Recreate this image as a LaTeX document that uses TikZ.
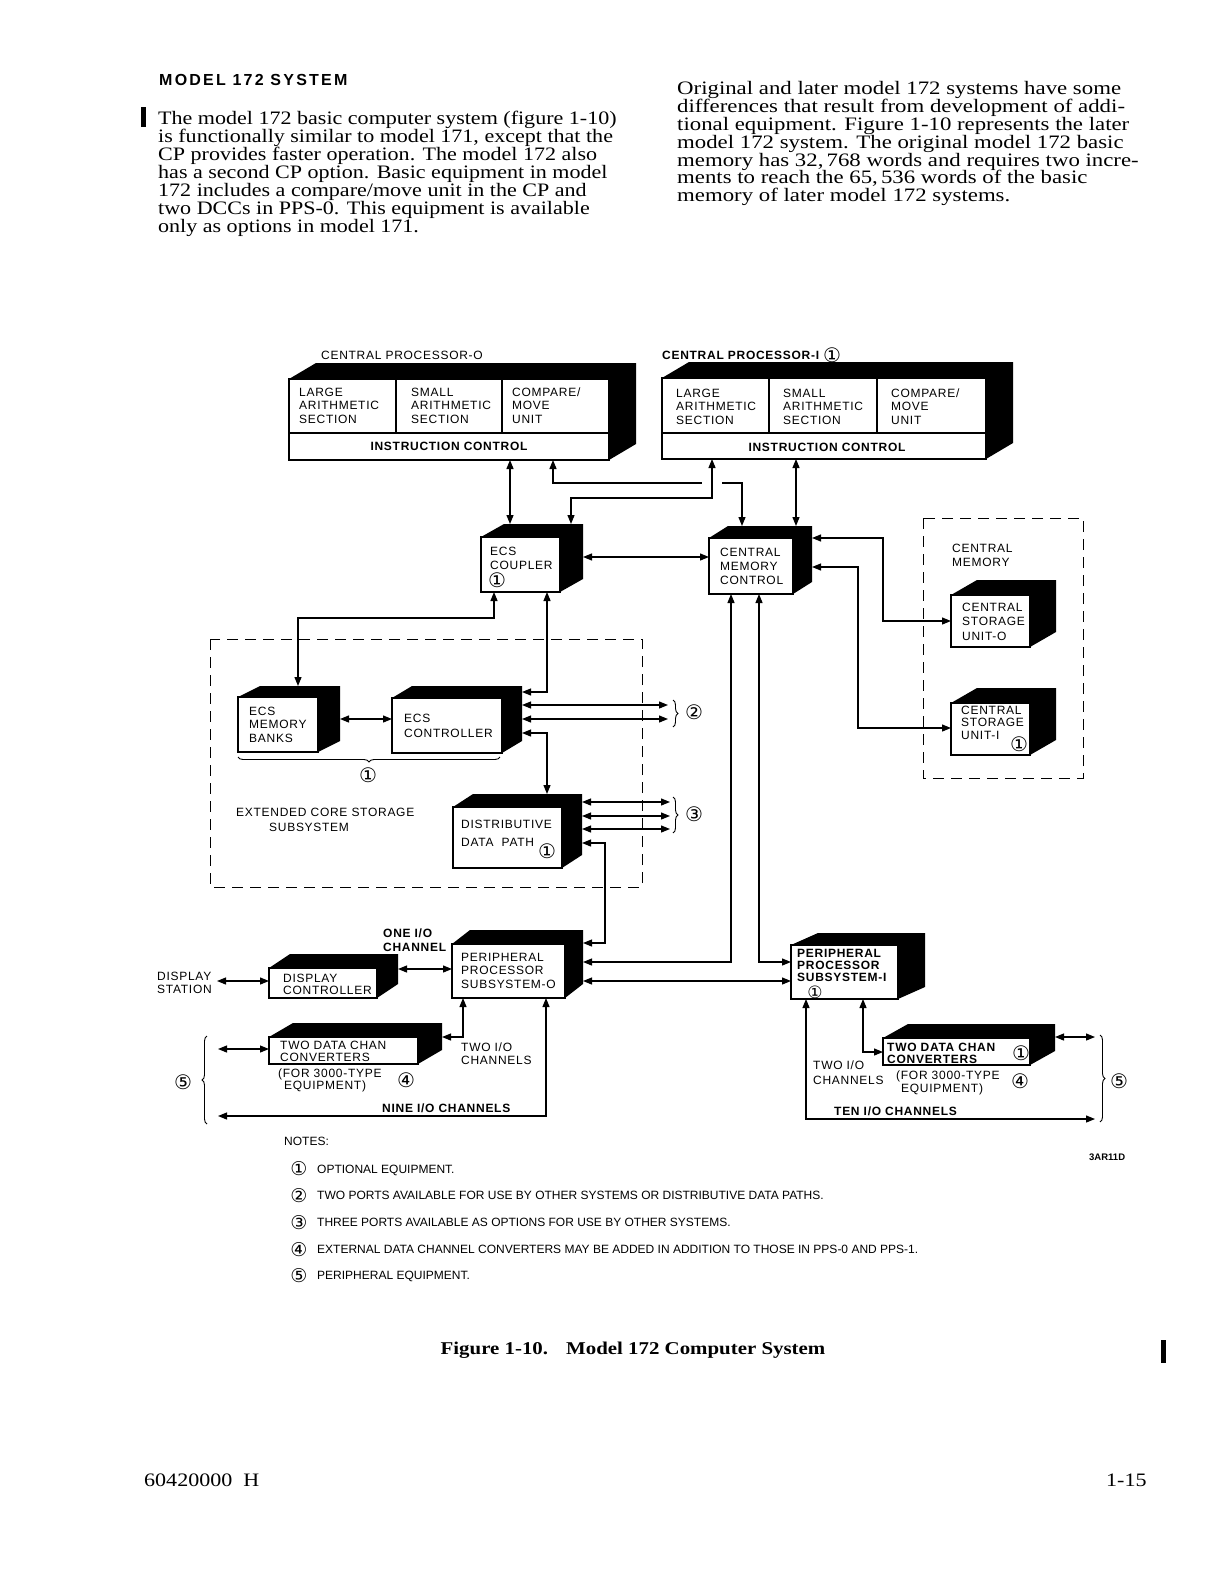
\documentclass[tikz,border=0pt]{standalone}
\usepackage{fontspec}
\setmainfont{Liberation Serif}
\newfontfamily\bodyf[FakeStretch=1.16]{Liberation Serif}
\newfontfamily\bodyr[FakeStretch=1.2]{Liberation Serif}
\newfontfamily\labfam[LetterSpace=6]{Liberation Sans}
\newfontfamily\notef{Liberation Sans}
\newfontfamily\headf[LetterSpace=14]{Liberation Sans}
\newfontfamily\dvf{DejaVu Sans}
\usetikzlibrary{arrows.meta,decorations.pathreplacing}
\newcommand\mlines[2][14]{{\fontsize{12}{#1}\selectfont\begin{tabular}[t]{@{}l@{}}#2\end{tabular}}}
\newcommand\cubebox[7]{%
  \fill (#2,#3) -- (#2+#6,#3-#7) -- (#4+#6,#3-#7) -- (#4+#6,#5-#7) -- (#4,#5) -- cycle;
  \pgfmathsetmacro\cbw{#4-#2}\pgfmathsetmacro\cbh{#5-#3}%
  \node[front, minimum width=\cbw pt, minimum height=\cbh pt, anchor=north west] (#1) at (#2,#3) {};}
\begin{document}
\begin{tikzpicture}[x=1pt,y=-1pt,>={Triangle[length=9pt,width=7pt]},
  front/.style={draw, fill=white, line width=1.2pt, inner sep=0pt, outer sep=0pt},
  lab/.style={font=\labfam\fontsize{12}{14}\selectfont, inner sep=0pt, anchor=base west},
  labb/.style={font=\labfam\bfseries\fontsize{12}{14}\selectfont, inner sep=0pt, anchor=base west},
  labc/.style={font=\labfam\bfseries\fontsize{12}{14}\selectfont, inner sep=0pt, anchor=base},
  cnode/.style={font=\dvf\fontsize{20}{20}\selectfont, inner sep=0pt},
  conn/.style={line width=1.2pt},
  dbl/.style={conn,<->},
  dashbox/.style={line width=1pt, dash pattern=on 11pt off 7pt},
  brc/.style={line width=0.9pt, decorate, decoration={brace, amplitude=5pt}},
  body/.style={font=\bodyf\fontsize{19}{18}\selectfont, inner sep=0pt, anchor=base west},
  bodyrt/.style={font=\bodyr\fontsize{19}{18}\selectfont, inner sep=0pt, anchor=base west},
  note/.style={font=\notef\fontsize{12}{13}\selectfont, inner sep=0pt, anchor=base west}]
\fill[white] (0,0) rectangle (1218,1581);
\useasboundingbox (0,0) rectangle (1218,1581);

% ---------- page text ----------
\node[font=\headf\bfseries\fontsize{16}{18}\selectfont, inner sep=0pt, anchor=base west] (title) at (159,86) {MODEL 172 SYSTEM};
\fill (141,107) rectangle (146,127);
\foreach \txt [count=\i from 0] in {{The model 172 basic computer system (figure 1-10)},{is functionally similar to model 171, except that the},{CP provides faster operation.  The model 172 also},{has a second CP option.  Basic equipment in model},{172 includes a compare/move unit in the CP and},{two DCCs in PPS-0.  This equipment is available},{only as options in model 171.}}
  \node[body] (lt\i) at (158,125+17.9*\i) {\txt};
\foreach \txt [count=\i from 0] in {{Original and later model 172 systems have some},{differences that result from development of addi-},{tional equipment.  Figure 1-10 represents the later},{model 172 system.  The original model 172 basic},{memory has 32,\,768 words and requires two incre-},{ments to reach the 65,\,536 words of the basic},{memory of later model 172 systems.}}
  \node[bodyrt] (rt\i) at (677,95+17.8*\i) {\txt};

% ---------- CP-0 ----------
\node[lab] (cp0l) at (321,359) {CENTRAL PROCESSOR-O};
\cubebox{cp0}{289}{379}{609}{460}{27}{16}
\draw[line width=1.2pt] (289,433) -- (609,433) (396,379) -- (396,433) (502,379) -- (502,433);
\node[lab] (cp0a) at (299,396) {\mlines[13.5]{LARGE\\ARITHMETIC\\SECTION}};
\node[lab] (cp0b) at (411,396) {\mlines[13.5]{SMALL\\ARITHMETIC\\SECTION}};
\node[lab] (cp0c) at (512,396) {\mlines[13.5]{COMPARE/\\MOVE\\UNIT}};
\node[labc] (cp0d) at (449,450) {INSTRUCTION CONTROL};

% ---------- CP-1 ----------
\node[labb] (cp1l) at (662,359) {CENTRAL PROCESSOR-I};
\node[cnode] (cp1n) at (832,355) {①};
\cubebox{cp1}{662}{378}{986}{459}{27}{16}
\draw[line width=1.2pt] (662,433) -- (986,433) (769,378) -- (769,433) (877,378) -- (877,433);
\node[lab] (cp1a) at (676,397) {\mlines[13.5]{LARGE\\ARITHMETIC\\SECTION}};
\node[lab] (cp1b) at (783,397) {\mlines[13.5]{SMALL\\ARITHMETIC\\SECTION}};
\node[lab] (cp1c) at (891,397) {\mlines[13.5]{COMPARE/\\MOVE\\UNIT}};
\node[labc] (cp1d) at (827,451) {INSTRUCTION CONTROL};

% ---------- ECS coupler, CMC ----------
\cubebox{ecsc}{481}{537}{560}{592}{23}{13}
\node[lab] (ecsct) at (490,555) {\mlines[14.5]{ECS\\COUPLER}};
\node[cnode] (ecscn) at (497,580) {①};
\cubebox{cmc}{709}{538}{793}{594}{19}{12}
\node[lab] (cmct) at (720,556.5) {\mlines[14]{CENTRAL\\MEMORY\\CONTROL}};

% ---------- central memory ----------
\draw[dashbox] (923,518) rectangle (1083,778);
\node[lab] (cml) at (952,552.5) {\mlines[14]{CENTRAL\\MEMORY}};
\cubebox{csu0}{951}{595}{1030}{647}{26}{15}
\node[lab] (csu0t) at (962,611.5) {\mlines[14.3]{CENTRAL\\STORAGE\\UNIT-O}};
\cubebox{csu1}{951}{703}{1030}{755}{26}{15}
\node[lab] (csu1t) at (961,714) {\mlines[12.8]{CENTRAL\\STORAGE\\UNIT-I}};
\node[cnode] (csu1n) at (1019,744) {①};

% ---------- ECS subsystem ----------
\draw[dashbox] (210,639) rectangle (642,887);
\cubebox{ecsm}{238}{697}{318}{752}{22}{11}
\node[lab] (ecsmt) at (249,715) {\mlines[13.8]{ECS\\MEMORY\\BANKS}};
\cubebox{ecsk}{392}{698}{502}{753}{20}{12}
\node[lab] (ecskt) at (404,722) {\mlines[15]{ECS\\CONTROLLER}};
\draw[brc] (500,757) -- (238,757);
\node[cnode] (ecsbn) at (368,775) {①};
\node[lab] (ecsl) at (236,816.5) {EXTENDED CORE STORAGE};
\node[lab] (ecsl2) at (269,831) {SUBSYSTEM};
\cubebox{ddp}{453}{807}{562}{868}{20}{13}
\node[lab] (ddpt) at (461,828) {\mlines[18]{DISTRIBUTIVE\\DATA\ \ PATH}};
\node[cnode] (ddpn) at (547,851) {①};
\draw[brc] (673,700) -- (673,727);
\node[cnode] (n2) at (694,712) {②};
\draw[brc] (673,797) -- (673,833);
\node[cnode] (n3) at (694,814) {③};

% ---------- PPS-0 side ----------
\node[labb] (onel) at (383,937) {\mlines[14]{ONE I/O\\CHANNEL}};
\cubebox{pps0}{452}{944}{565}{998}{18}{14}
\node[lab] (pps0t) at (461,961) {\mlines[13.7]{PERIPHERAL\\PROCESSOR\\SUBSYSTEM-O}};
\cubebox{dspc}{269}{968}{377}{998}{21}{14}
\node[lab] (dspct) at (283,982) {\mlines[12.5]{DISPLAY\\CONTROLLER}};
\node[lab] (dsps) at (157,980.5) {\mlines[13]{DISPLAY\\STATION}};
\cubebox{cvt0}{269}{1037}{418}{1064}{24}{14}
\node[lab] (cvt0t) at (280,1049.5) {\mlines[12]{TWO DATA CHAN\\CONVERTERS}};
\node[lab] (cvt0e) at (278,1077.5) {\mlines[12]{(FOR 3000-TYPE\\\hspace{6pt}EQUIPMENT)}};
\node[cnode] (cvt0n) at (406,1080) {④};
\node[lab] (two0) at (461,1051.5) {\mlines[13]{TWO I/O\\CHANNELS}};
\node[labb] (nine) at (382,1112) {NINE I/O CHANNELS};
\draw[brc] (207,1124) -- (207,1036);
\node[cnode] (n5a) at (183,1082) {⑤};

% ---------- PPS-1 side ----------
\cubebox{pps1}{791}{945}{898}{999}{27}{12}
\node[labb] (pps1t) at (797,957) {\mlines[12.3]{PERIPHERAL\\PROCESSOR\\SUBSYSTEM-I}};
\node[cnode, font=\dvf\fontsize{17}{17}\selectfont] (pps1n) at (815,992) {①};
\cubebox{cvt1}{883}{1038}{1030}{1065}{25}{14}
\node[labb] (cvt1t) at (887,1051.5) {\mlines[11]{TWO DATA CHAN\\CONVERTERS}};
\node[cnode] (cvt1n) at (1021,1053) {①};
\node[lab] (two1) at (813,1069.5) {\mlines[15]{TWO I/O\\CHANNELS}};
\node[lab] (cvt1e) at (896,1079.5) {\mlines[13]{(FOR 3000-TYPE\\\hspace{5pt}EQUIPMENT)}};
\node[cnode] (cvt1n4) at (1020,1081) {④};
\node[labb] (ten) at (834,1115) {TEN I/O CHANNELS};
\draw[brc] (1100,1035) -- (1100,1122);
\node[cnode] (n5b) at (1119,1081) {⑤};

% ---------- connectors ----------
\path (510,460) coordinate (a1) (510,524) coordinate (a2);
\draw[dbl] (a1) -- (a2);
\path (553,460) coordinate (b1) (553,483) coordinate (b2) (742,483) coordinate (b3) (742,526) coordinate (b4);
\draw[dbl] (b1) -- (b2) -- (b3) -- (b4);
\fill[white] (702,479) rectangle (722,487);
\path (712,459) coordinate (c1) (712,498) coordinate (c2) (571,498) coordinate (c3) (571,524) coordinate (c4);
\draw[dbl] (c1) -- (c2) -- (c3) -- (c4);
\path (796,459) coordinate (d1) (796,526) coordinate (d2);
\draw[dbl] (d1) -- (d2);
\path (583,557) coordinate (e1) (709,557) coordinate (e2);
\draw[dbl] (e1) -- (e2);
\path (812,538) coordinate (f1) (883,538) coordinate (f2) (883,621) coordinate (f3) (951,621) coordinate (f4);
\draw[dbl] (f1) -- (f2) -- (f3) -- (f4);
\path (812,567) coordinate (g1) (858,567) coordinate (g2) (858,728) coordinate (g3) (951,728) coordinate (g4);
\draw[dbl] (g1) -- (g2) -- (g3) -- (g4);
\path (494,592) coordinate (h1) (494,618) coordinate (h2) (298,618) coordinate (h3) (298,686) coordinate (h4);
\draw[dbl] (h1) -- (h2) -- (h3) -- (h4);
\path (547,592) coordinate (i1) (547,692) coordinate (i2) (522,692) coordinate (i3);
\draw[dbl] (i1) -- (i2) -- (i3);
\path (340,719) coordinate (j1) (392,719) coordinate (j2);
\draw[dbl] (j1) -- (j2);
\path (522,705) coordinate (k1) (668,705) coordinate (k2) (522,719) coordinate (k3) (668,719) coordinate (k4);
\draw[dbl] (k1) -- (k2); \draw[dbl] (k3) -- (k4);
\path (522,733) coordinate (l1) (547,733) coordinate (l2) (547,794) coordinate (l3);
\draw[dbl] (l1) -- (l2) -- (l3);
\path (582,802) coordinate (m1) (670,802) coordinate (m2) (582,816) coordinate (m3) (670,816) coordinate (m4) (582,829) coordinate (m5) (670,829) coordinate (m6);
\draw[dbl] (m1) -- (m2); \draw[dbl] (m3) -- (m4); \draw[dbl] (m5) -- (m6);
\path (582,843) coordinate (n1) (605,843) coordinate (n2c) (605,943) coordinate (n3c) (583,943) coordinate (n4);
\draw[dbl] (n1) -- (n2c) -- (n3c) -- (n4);
\path (731,594) coordinate (o1) (731,962) coordinate (o2) (583,962) coordinate (o3);
\draw[dbl] (o1) -- (o2) -- (o3);
\path (759,594) coordinate (p1) (759,962) coordinate (p2) (791,962) coordinate (p3);
\draw[dbl] (p1) -- (p2) -- (p3);
\path (583,981) coordinate (q1) (791,981) coordinate (q2);
\draw[dbl] (q1) -- (q2);
\path (398,969) coordinate (r1) (452,969) coordinate (r2);
\draw[dbl] (r1) -- (r2);
\path (217,981) coordinate (s1) (269,981) coordinate (s2);
\draw[dbl] (s1) -- (s2);
\path (218,1049) coordinate (t1) (269,1049) coordinate (t2);
\draw[dbl] (t1) -- (t2);
\path (442,1037) coordinate (u1) (463,1037) coordinate (u2) (463,998) coordinate (u3);
\draw[dbl] (u1) -- (u2) -- (u3);
\path (546,998) coordinate (v1) (546,1116) coordinate (v2) (218,1116) coordinate (v3);
\draw[dbl] (v1) -- (v2) -- (v3);
\path (863,999) coordinate (w1) (863,1052) coordinate (w2) (883,1052) coordinate (w3);
\draw[dbl] (w1) -- (w2) -- (w3);
\path (806,999) coordinate (x1) (806,1119) coordinate (x2) (1095,1119) coordinate (x3);
\draw[dbl] (x1) -- (x2) -- (x3);
\path (1055,1037) coordinate (y1) (1095,1037) coordinate (y2);
\draw[dbl] (y1) -- (y2);

% ---------- notes ----------
\node[note] (notes) at (284,1145) {NOTES:};
\foreach \txt [count=\i from 0] in {{OPTIONAL EQUIPMENT.},{TWO PORTS AVAILABLE FOR USE BY OTHER SYSTEMS OR DISTRIBUTIVE DATA PATHS.},{THREE PORTS AVAILABLE AS OPTIONS FOR USE BY OTHER SYSTEMS.},{EXTERNAL DATA CHANNEL CONVERTERS MAY BE ADDED IN ADDITION TO THOSE IN PPS-0 AND PPS-1.},{PERIPHERAL EQUIPMENT.}}
  \node[note] (nt\i) at (317,1173+26.7*\i) {\txt};
\foreach \c [count=\i from 0] in {①,②,③,④,⑤}
  \node[cnode, font=\dvf\fontsize{19}{19}\selectfont] (nc\i) at (299,1169+26.7*\i) {\c};
\node[font=\notef\bfseries\fontsize{9.5}{10}\selectfont, inner sep=0pt, anchor=base west] (dwg) at (1089,1160.5) {3AR11D};

% ---------- caption and footer ----------
\node[font=\bodyf\bfseries\fontsize{18}{20}\selectfont, inner sep=0pt, anchor=base] (cap) at (633,1354) {Figure 1-10.\quad Model 172 Computer System};
\fill (1161,1340) rectangle (1166,1363);
\node[body] (pg1) at (144,1486) {60420000\ \ H};
\node[body] (pg2) at (1106,1486) {1-15};
\end{tikzpicture}
\end{document}
